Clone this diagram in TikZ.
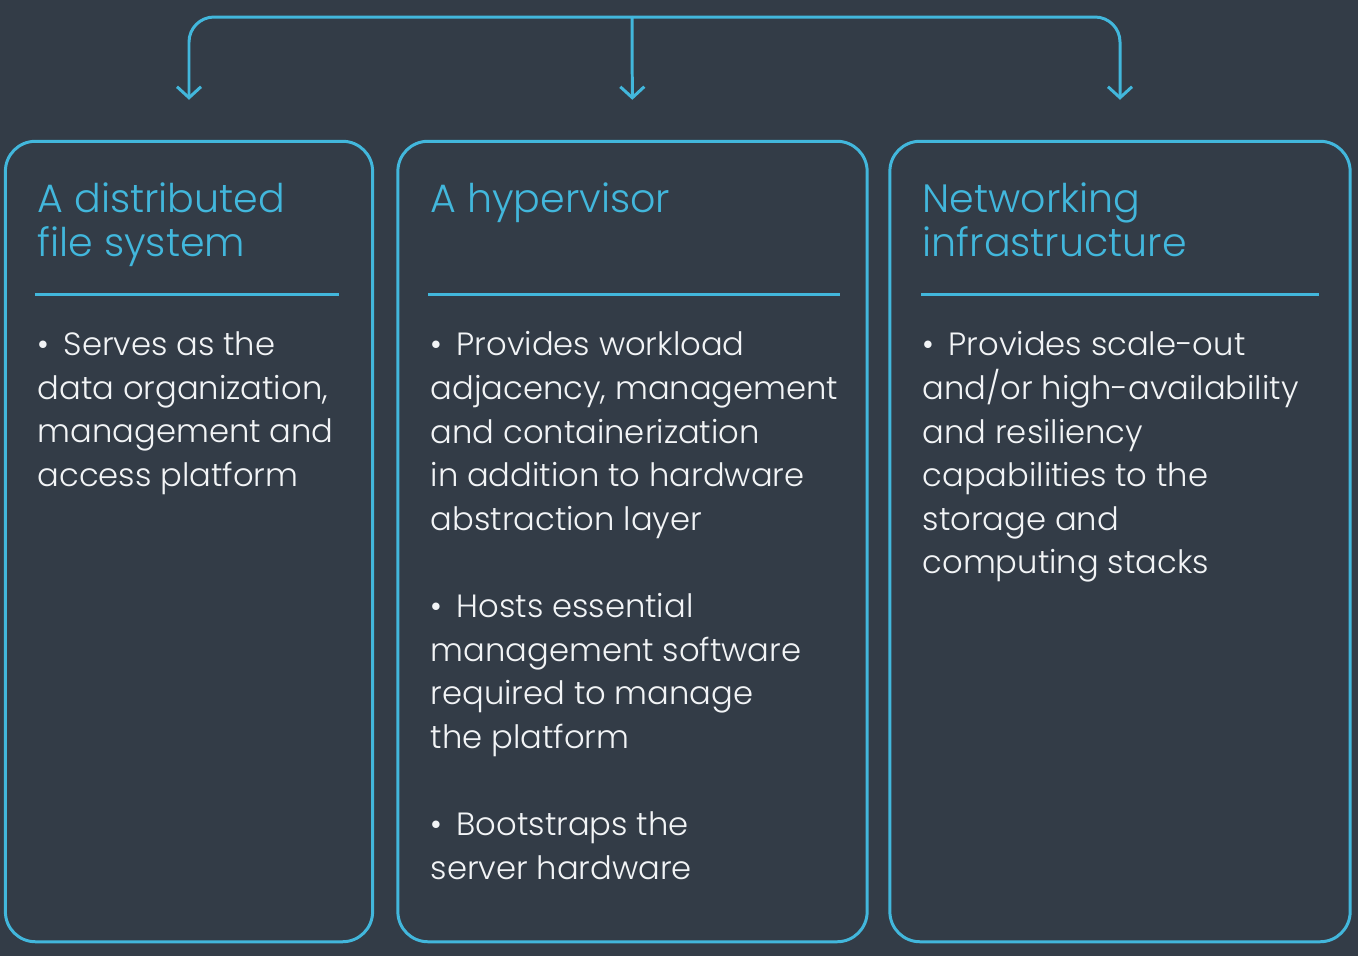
\documentclass[tikz,border=0pt]{standalone}
\usepackage{fontspec}
\setmainfont{Poppins}[UprightFont={* Light}]
\usepackage{tikz}
\usetikzlibrary{positioning,arrows.meta,calc}
\definecolor{slate}{HTML}{333C47}
\definecolor{sky}  {HTML}{42B7DC}
\definecolor{paper}{HTML}{F2F4F6}
\tikzset{
  card/.style  = {draw=sky, line width=0.85pt, rounded corners=0.3cm,
                  minimum height=8.0cm, inner sep=0pt},
  head/.style  = {text=sky, align=left, inner sep=0pt, anchor=north west,
                  font=\fontsize{11.25}{12.5}\selectfont},
  body/.style  = {text=paper, align=left, inner sep=0pt, anchor=north west,
                  font=\fontsize{9.15}{12.4}\selectfont},
  rulel/.style = {draw=sky, line width=0.85pt},
  flow/.style  = {draw=sky, line width=0.85pt, rounded corners=0.25cm,
                  -{Straight Barb[length=1.1mm, width=2.4mm, line width=0.85pt]}},
}
\begin{document}
\begin{tikzpicture}[x=0.01cm, y=-0.01cm]
  \fill[slate] (0,0) rectangle (1358,956);
  \useasboundingbox (0,0) rectangle (1358,956);

  % cards
  \node[card, minimum width=3.67cm] (fs) at (189,541.5) {};
  \node[card, minimum width=4.69cm] (hv) at (632.5,541.5) {};
  \node[card, minimum width=4.6cm] (net) at (1120,541.5) {};

  % bracket
  \coordinate (hub) at (632,17);
  \draw[flow, shorten >=0.4cm] (hub) -| (fs.north);
  \draw[flow, shorten >=0.4cm] (hub) -- (hv.north);
  \draw[flow, shorten >=0.4cm] (hub) -| (net.north);

  % titles
  \node[head] (fsT) at (37,182) {A distributed\\file system};
  \node[head] (hvT) at (430,182) {A hypervisor};
  \node[head] (netT) at (922,182) {Networking\\infrastructure};

  % separators
  \draw[rulel] (35,294) -- (339,294);
  \draw[rulel] (428,294) -- (840,294);
  \draw[rulel] (921,294) -- (1319,294);

  % bullets
  \node[body] (fsB) at (37,331)
    {•\, Serves as the\\data organization,\\management and\\access platform};
  \node[body] (hvB) at (430,331)
    {•\, Provides workload\\adjacency, management\\and containerization\\in addition to hardware\\abstraction layer\\[12.4pt]
     •\, Hosts essential\\management software\\required to manage\\the platform\\[12.4pt]
     •\, Bootstraps the\\server hardware};
  \node[body] (netB) at (922,331)
    {•\, Provides scale-out\\and/or high-availability\\and resiliency\\capabilities to the\\storage and\\computing stacks};
\end{tikzpicture}
\end{document}
